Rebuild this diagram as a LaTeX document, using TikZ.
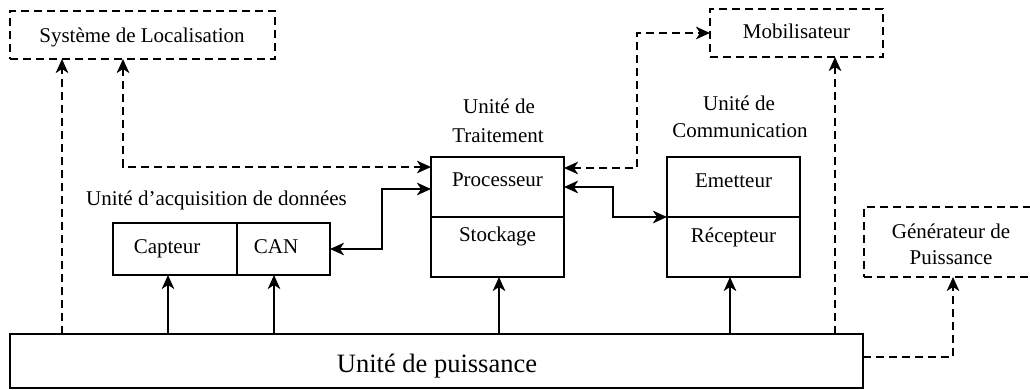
\documentclass[tikz,border=0pt]{standalone}
\usepackage{fontspec}
\setmainfont{Liberation Serif}
\usetikzlibrary{arrows.meta}
\begin{document}
\begin{tikzpicture}[x=1pt,y=-1pt,
  every node/.style={inner sep=0pt, outer sep=0pt},
  box/.style={draw, line width=2pt, rectangle},
  dbox/.style={box, dash pattern=on 8pt off 5pt},
  txt/.style={font=\fontsize{21}{27}\selectfont, anchor=base},
  bigtxt/.style={font=\fontsize{26.5}{32}\selectfont, anchor=base},
  tip/.tip={Stealth[length=14pt,width=12.5pt,inset=4pt]},
  link/.style={line width=2.2pt, -tip},
  dlink/.style={link, dash pattern=on 8pt off 5pt},
  both/.style={line width=2.2pt, tip-tip},
  dboth/.style={both, dash pattern=on 8pt off 5pt}]
\path[use as bounding box] (0,0) rectangle (1030,389);

% external systems (dashed)
\node[dbox, minimum width=265pt, minimum height=48pt] (loc) at (142.5,35) {};
\node[dbox, minimum width=173pt, minimum height=48pt] (mob) at (796.5,33) {};
\node[dbox, minimum width=172pt, minimum height=70pt] (gen) at (950,242) {};

% power unit
\node[box, minimum width=853pt, minimum height=54pt] (pow) at (436.5,361) {};

% acquisition unit
\node[box, minimum width=124pt, minimum height=52pt] (capt) at (175,249) {};
\node[box, minimum width=93pt, minimum height=52pt] (can) at (283.5,249) {};

% processing unit
\node[box, minimum width=133pt, minimum height=60pt] (proc) at (497.5,187) {};
\node[box, minimum width=133pt, minimum height=60pt] (stock) at (497.5,247) {};

% communication unit
\node[box, minimum width=133pt, minimum height=60pt] (emet) at (733.5,187) {};
\node[box, minimum width=133pt, minimum height=60pt] (recep) at (733.5,247) {};

% texts
\node[txt] (locT) at (142,42) {Système de Localisation};
\node[txt] (mobT) at (796.5,38) {Mobilisateur};
\node[txt] (genT1) at (951,238) {Générateur de};
\node[txt] (genT2) at (951,264) {Puissance};
\node[bigtxt] (powT) at (437,372) {Unité de puissance};
\node[txt] (captT) at (167,253) {Capteur};
\node[txt] (canT) at (276,253) {CAN};
\node[txt] (procT) at (497.5,186) {Processeur};
\node[txt] (stockT) at (497.5,241) {Stockage};
\node[txt] (emetT) at (733.5,187) {Emetteur};
\node[txt] (recepT) at (733.5,242) {Récepteur};
\node[txt] (trt1) at (499,113) {Unité de};
\node[txt] (trt2) at (498,142) {Traitement};
\node[txt] (com1) at (739,110) {Unité de};
\node[txt] (com2) at (740,137) {Communication};
\node[txt] (acq) at (216.5,205) {Unité d’acquisition de données};

% dashed links
\draw[dlink] (pow.north -| 62,0) -- (loc.south -| 62,0);
\draw[dboth] (loc.south -| 123,0) |- (proc.west |- 0,167);
\draw[dboth] (proc.east |- 0,168) -| (637,33) -- (mob.west);
\draw[dlink] (pow.north -| 835,0) -- (mob.south -| 835,0);
\draw[dlink] (pow.east |- 0,357) -| (gen.south -| 953,0);

% power supply links
\draw[link] (pow.north -| 168,0) -- (capt.south -| 168,0);
\draw[link] (pow.north -| 274,0) -- (can.south -| 274,0);
\draw[link] (pow.north -| 499,0) -- (stock.south -| 499,0);
\draw[link] (pow.north -| 730,0) -- (recep.south -| 730,0);

% data links
\draw[both] (can.east) -| (382,189) -- (proc.west |- 0,189);
\draw[both] (proc.east |- 0,187) -| (613,217) -- (recep.north west);
\end{tikzpicture}
\end{document}
